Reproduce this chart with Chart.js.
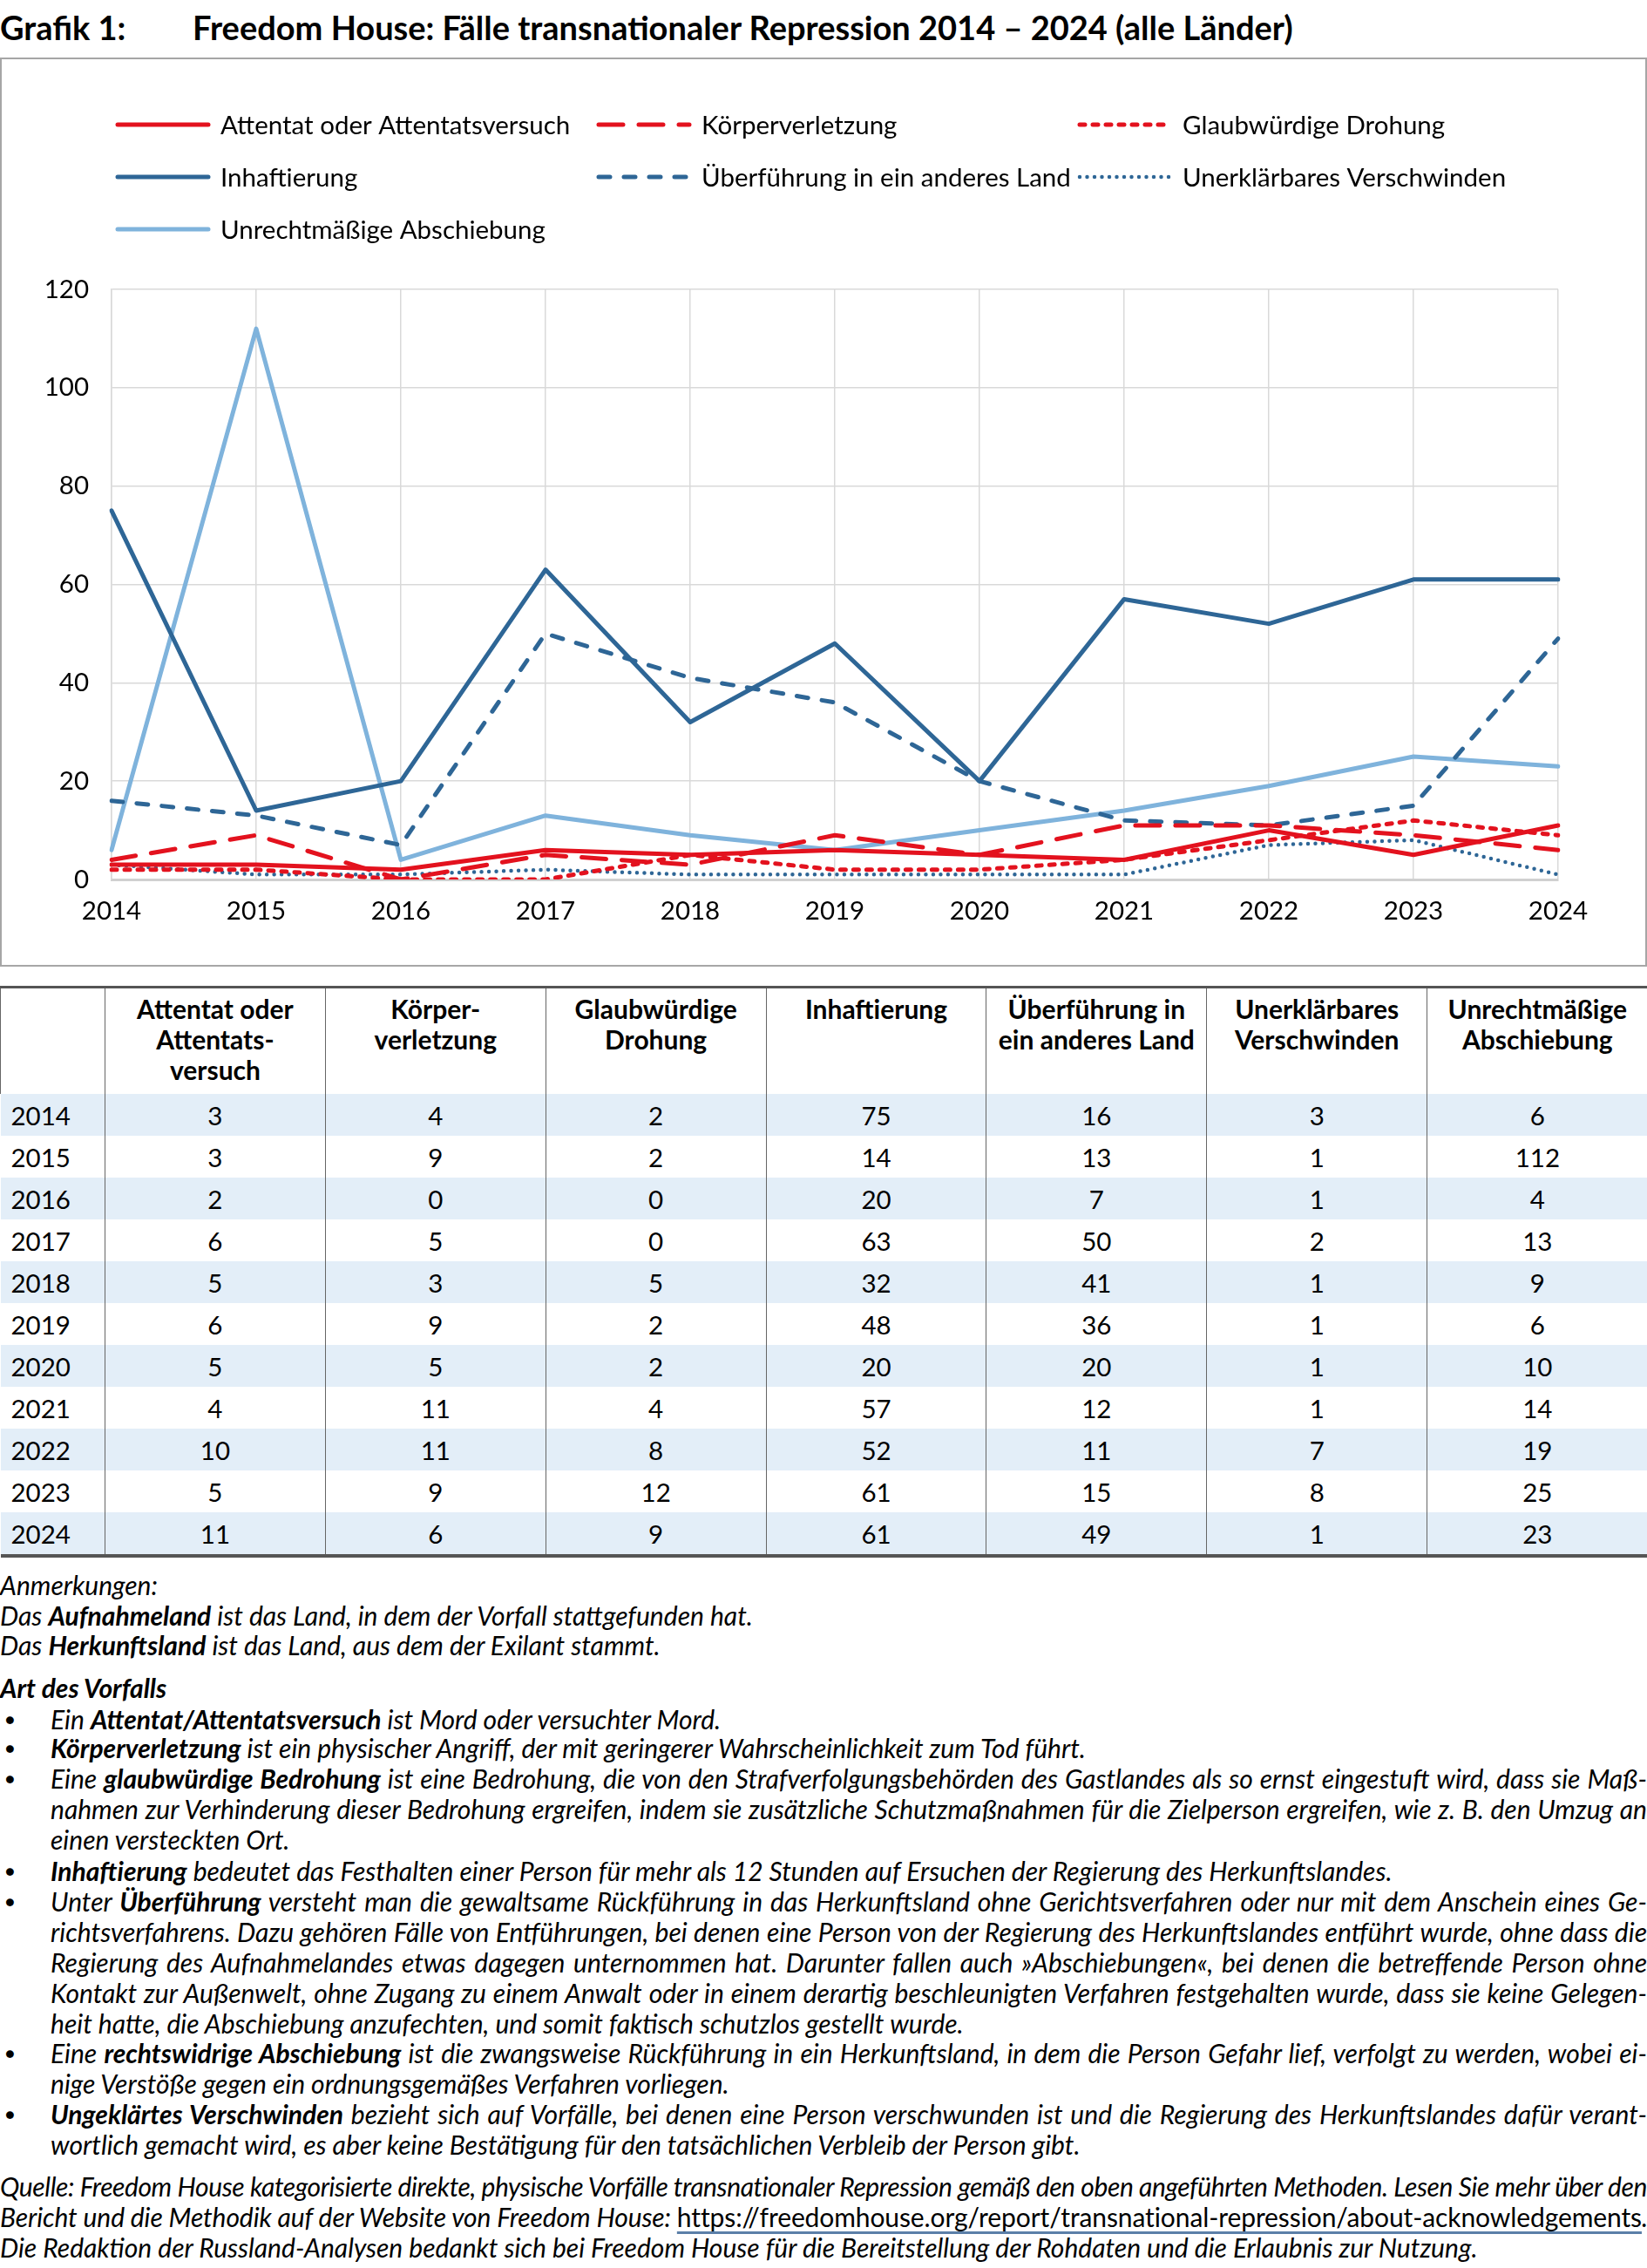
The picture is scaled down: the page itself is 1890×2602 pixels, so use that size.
<!DOCTYPE html>
<html lang="de"><head><meta charset="utf-8">
<script src="https://cdn.jsdelivr.net/npm/chart.js@4/dist/chart.umd.min.js"></script>
<style>
html,body{margin:0;padding:0}
body{width:1890px;height:2602px;background:#fff;font-family:Lato,"Noto Sans",sans-serif;color:#000;position:relative;overflow:hidden}
.title{position:absolute;top:0;font-weight:bold;font-size:38px;line-height:62px;white-space:nowrap}
#box{position:absolute;left:0;top:66px;width:1886px;height:1039px;border:2px solid #a6a6a6}
#box canvas{display:block}
table{position:absolute;left:0;top:1131px;width:1890px;border-collapse:collapse;table-layout:fixed;border-top:3px solid #555;border-bottom:4px solid #555}
th{font-weight:bold;font-size:30px;line-height:35px;vertical-align:top;padding:6px 0 0;height:115px;border-left:1px solid #666;text-align:center;white-space:nowrap}
th:first-child{border-left:1px solid #666}
td{font-size:29.5px;height:48px;padding:0;text-align:center;vertical-align:middle;border-left:1px solid #666}
td:first-child{text-align:left;padding-left:12px;border-left:none}
tr.s td{background:#e3eef8}
.n{position:absolute;font-style:italic;font-size:30px;line-height:35px;white-space:nowrap}
.n b{font-weight:bold}
.j{text-align:justify;text-align-last:justify}
.bul{position:absolute;left:6px;font-size:18px;line-height:35px}
.url{font-style:normal;text-decoration:underline;text-decoration-color:#5b7fa8;text-underline-offset:5px}
</style></head>
<body>
<div class="title" style="left:0">Grafik 1:</div>
<div class="title" style="left:221px">Freedom House: Fälle transnationaler Repression 2014 – 2024 (alle Länder)</div>
<div id="box"><canvas id="c" width="1886" height="1039"></canvas></div>
<table id="tbl"></table>
<div id="notes"></div>
<script>
// ---- data ----
const years = ['2014','2015','2016','2017','2018','2019','2020','2021','2022','2023','2024'];
const seriesNames = ['Attentat oder Attentatsversuch','Körperverletzung','Glaubwürdige Drohung','Inhaftierung','Überführung in ein anderes Land','Unerklärbares Verschwinden','Unrechtmäßige Abschiebung'];
const headerLabels = ['Attentat oder<br>Attentats-<br>versuch','Körper-<br>verletzung','Glaubwürdige<br>Drohung','Inhaftierung','Überführung in<br>ein anderes Land','Unerklärbares<br>Verschwinden','Unrechtmäßige<br>Abschiebung'];
const attentat      = [3,3,2,6,5,6,5,4,10,5,11];
const koerper       = [4,9,0,5,3,9,5,11,11,9,6];
const drohung       = [2,2,0,0,5,2,2,4,8,12,9];
const inhaft        = [75,14,20,63,32,48,20,57,52,61,61];
const ueberfuehrung = [16,13,7,50,41,36,20,12,11,15,49];
const verschwinden  = [3,1,1,2,1,1,1,1,7,8,1];
const abschiebung   = [6,112,4,13,9,6,10,14,19,25,23];
const yTicks = [0,20,40,60,80,100,120];

const seriesValues = [attentat,koerper,drohung,inhaft,ueberfuehrung,verschwinden,abschiebung];

// ---- styles ----
const RED='#e3121e', DBLUE='#2e6696', LBLUE='#7fb3dc';
const styles = [
  {c:RED,  d:[],      w:5, cap:'round'},
  {c:RED,  d:[28,18], w:5, cap:'round'},
  {c:RED,  d:[6,9],   w:5, cap:'round'},
  {c:DBLUE,d:[],      w:5, cap:'round'},
  {c:DBLUE,d:[13,16], w:5, cap:'round'},
  {c:DBLUE,d:[0,8.5], w:4.5, cap:'round'},
  {c:LBLUE,d:[],      w:5, cap:'round'}
];

// ---- table ----
(function(){
  const t=document.getElementById('tbl');
  let h='<colgroup><col style="width:120px">';
  for(let i=0;i<7;i++) h+='<col style="width:252.86px">';
  h+='</colgroup><tr><th></th>'+headerLabels.map(l=>'<th>'+l+'</th>').join('')+'</tr>';
  years.forEach((y,r)=>{
    h+='<tr class="'+(r%2===0?'s':'')+'"><td>'+y+'</td>'+seriesValues.map(s=>'<td>'+s[r]+'</td>').join('')+'</tr>';
  });
  t.innerHTML=h;
})();

// ---- notes ----
const noteLines = [
  [1819,0,'','Anmerkungen:'],
  [1854,0,'','Das <b>Aufnahmeland</b> ist das Land, in dem der Vorfall stattgefunden hat.'],
  [1888,0,'','Das <b>Herkunftsland</b> ist das Land, aus dem der Exilant stammt.'],
  [1937,0,'','<b>Art des Vorfalls</b>'],
  [1973,1,'','Ein <b>Attentat/Attentatsversuch</b> ist Mord oder versuchter Mord.'],
  [2006,1,'','<b>Körperverletzung</b> ist ein physischer Angriff, der mit geringerer Wahrscheinlichkeit zum Tod führt.'],
  [2041,1,'j','Eine <b>glaubwürdige Bedrohung</b> ist eine Bedrohung, die von den Strafverfolgungsbehörden des Gastlandes als so ernst eingestuft wird, dass sie Maß-'],
  [2076,2,'j','nahmen zur Verhinderung dieser Bedrohung ergreifen, indem sie zusätzliche Schutzmaßnahmen für die Zielperson ergreifen, wie z. B. den Umzug an'],
  [2111,2,'','einen versteckten Ort.'],
  [2147,1,'','<b>Inhaftierung</b> bedeutet das Festhalten einer Person für mehr als 12 Stunden auf Ersuchen der Regierung des Herkunftslandes.'],
  [2182,1,'j','Unter <b>Überführung</b> versteht man die gewaltsame Rückführung in das Herkunftsland ohne Gerichtsverfahren oder nur mit dem Anschein eines Ge-'],
  [2217,2,'j','richtsverfahrens. Dazu gehören Fälle von Entführungen, bei denen eine Person von der Regierung des Herkunftslandes entführt wurde, ohne dass die'],
  [2252,2,'j','Regierung des Aufnahmelandes etwas dagegen unternommen hat. Darunter fallen auch »Abschiebungen«, bei denen die betreffende Person ohne'],
  [2287,2,'j','Kontakt zur Außenwelt, ohne Zugang zu einem Anwalt oder in einem derartig beschleunigten Verfahren festgehalten wurde, dass sie keine Gelegen-'],
  [2322,2,'','heit hatte, die Abschiebung anzufechten, und somit faktisch schutzlos gestellt wurde.'],
  [2356,1,'j','Eine <b>rechtswidrige Abschiebung</b> ist die zwangsweise Rückführung in ein Herkunftsland, in dem die Person Gefahr lief, verfolgt zu werden, wobei ei-'],
  [2391,2,'','nige Verstöße gegen ein ordnungsgemäßes Verfahren vorliegen.'],
  [2426,1,'j','<b>Ungeklärtes Verschwinden</b> bezieht sich auf Vorfälle, bei denen eine Person verschwunden ist und die Regierung des Herkunftslandes dafür verant-'],
  [2461,2,'','wortlich gemacht wird, es aber keine Bestätigung für den tatsächlichen Verbleib der Person gibt.'],
  [2509,0,'j','Quelle: Freedom House kategorisierte direkte, physische Vorfälle transnationaler Repression gemäß den oben angeführten Methoden. Lesen Sie mehr über den'],
  [2544,0,'j','Bericht und die Methodik auf der Website von Freedom House: <span class="url">https://freedomhouse.org/report/transnational-repression/about-acknowledgements</span>.'],
  [2579,0,'','Die Redaktion der Russland-Analysen bedankt sich bei Freedom House für die Bereitstellung der Rohdaten und die Erlaubnis zur Nutzung.']
];
(function(){
  const n=document.getElementById('notes');
  let h='';
  noteLines.forEach(([y,ind,cls,txt])=>{
    const left = ind>0 ? 58 : 0;
    if(ind===1) h+='<div class="bul" style="top:'+(y-18)+'px">●</div>';
    h+='<div class="n '+cls+'" style="top:'+(y-18)+'px;left:'+left+'px;width:'+(1890-left)+'px">'+txt+'</div>';
  });
  n.innerHTML=h;
  n.querySelectorAll('.n').forEach(el=>{
    let ls=0;
    while(el.scrollWidth>el.clientWidth+1 && ls>-2){ls-=0.05;el.style.letterSpacing=ls.toFixed(2)+'px';}
  });
})();

// ---- chart ----
const gridLegend = {
  id:'gridLegend',
  afterDraw(chart){
    const ctx=chart.ctx;
    const cols=[131,683,1235], rows=[75,135,195];
    chart.data.datasets.forEach((ds,i)=>{
      const x=cols[i%3], y=rows[Math.floor(i/3)];
      ctx.save();
      ctx.strokeStyle=ds.borderColor; ctx.lineWidth=ds.borderWidth;
      ctx.setLineDash(ds.borderDash); ctx.lineCap=ds.borderCapStyle;
      ctx.beginPath(); ctx.moveTo(x+2,y); ctx.lineTo(x+106,y); ctx.stroke();
      ctx.setLineDash([]);
      ctx.fillStyle='#000'; ctx.font='29.5px Lato'; ctx.textBaseline='middle'; ctx.textAlign='left';
      ctx.fillText(ds.label,x+120,y+1);
      ctx.restore();
    });
  }
};

function build(){
  new Chart(document.getElementById('c'),{
    type:'line',
    data:{
      labels:years,
      datasets:seriesNames.map((name,i)=>({
        label:name, data:seriesValues[i],
        borderColor:styles[i].c, backgroundColor:styles[i].c,
        borderWidth:styles[i].w, borderDash:styles[i].d, borderCapStyle:styles[i].cap,
        borderJoinStyle:'round', pointRadius:0, tension:0, fill:false
      }))
    },
    options:{
      responsive:false, animation:false, devicePixelRatio:1,
      layout:{padding:{left:0,right:100,top:264,bottom:0}},
      plugins:{legend:{display:false},tooltip:{enabled:false},title:{display:false}},
      scales:{
        x:{type:'category',offset:false,
           grid:{color:'#d9d9d9',lineWidth:1.5,drawTicks:false,offset:false},
           border:{color:'#d0d0d0',width:3},
           ticks:{font:{family:'Lato',size:29.5},color:'#000',padding:19,maxRotation:0,autoSkip:false},
           afterFit(s){s.height=98;}},
        y:{min:0,max:120,
           afterBuildTicks(s){s.ticks=yTicks.map(v=>({value:v}));},
           grid:{color:'#d9d9d9',lineWidth:1.5,drawTicks:false},
           border:{color:'#d9d9d9',width:1.5},
           ticks:{font:{family:'Lato',size:29.5},color:'#000',padding:26},
           afterFit(s){s.width=126;}}
      }
    },
    plugins:[gridLegend]
  });
}
(document.fonts?document.fonts.load('29.5px Lato'):Promise.resolve()).then(build,build);
</script>
</body></html>
